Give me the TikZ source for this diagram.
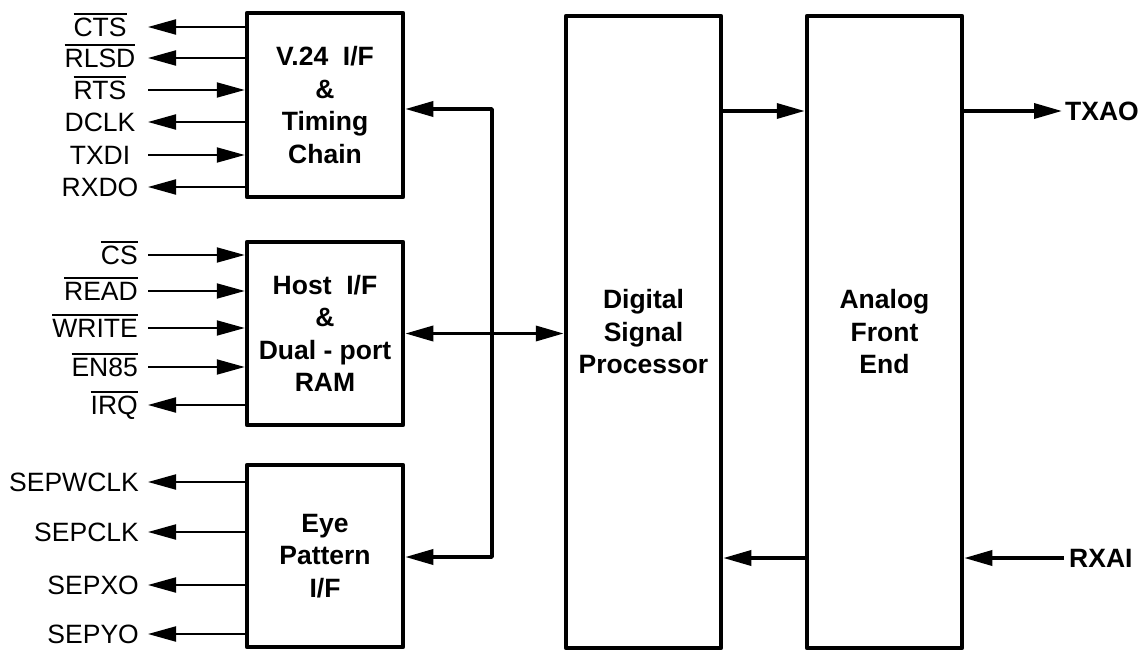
\documentclass[tikz,border=0pt]{standalone}
\usepackage{fontspec}
\setmainfont{Liberation Sans}
\usetikzlibrary{arrows.meta}
\newcommand\ovl[1]{\vbox{\hrule height 1.8pt\kern 3pt\hbox{#1}}} % active-low bar
\tikzset{
  blk/.style = {draw, line width=4.5pt, line join=round, minimum width=156pt,
    align=center, inner sep=0pt, font=\bfseries\fontsize{26.5}{32.5}\selectfont},
  lbl/.style = {inner sep=0pt, font=\fontsize{26.5}{30}\selectfont},
  pinlbl/.style = {inner sep=0pt, font=\bfseries\fontsize{26.5}{30}\selectfont}, % TXAO / RXAI
  sig/.style = {line width=2pt},
  bus/.style = {line width=3.5pt, line join=round},
  >={Triangle[length=28pt,width=15pt]}
}

\begin{document}
\begin{tikzpicture}[x=1pt,y=-1pt]
\useasboundingbox (0,0) rectangle (1143,650);
% blocks
\node[blk, minimum height=184pt] (v24)  at (325,105)   {V.24\ \ I/F\\\&\\Timing\\Chain};
\node[blk, minimum height=183pt] (host) at (325,333.5) {Host\ \ I/F\\\&\\Dual - port\\RAM};
\node[blk, minimum height=182pt] (eye)  at (325,556)   {Eye\\Pattern\\I/F};
\node[blk, minimum width=155pt, minimum height=632pt] (dsp) at (643.5,332) {Digital\\Signal\\Processor};
\node[blk, minimum width=155pt, minimum height=632pt] (afe) at (884.5,332) {Analog\\Front\\End};
% V.24 pins
\foreach \y/\txt/\dir [count=\i] in {27/\ovl{CTS}/<-, 58/\ovl{RLSD}/<-, 90/\ovl{RTS}/->,
    122/DCLK/<-, 155/TXDI/->, 187/RXDO/<-}{
  \coordinate (va\i) at (148,\y);
  \node[lbl, anchor=base, yshift=-9.5pt] (vt\i) at (100,\y) {\txt};
  \draw[sig, \dir] (va\i) -- (va\i -| v24.west);
}
% host pins
\foreach \y/\txt/\dir [count=\i] in {255/\ovl{CS}/->, 291/\ovl{READ}/->, 328/\ovl{WRITE}/->,
    367/\ovl{EN85}/->, 405/\ovl{IRQ}/<-}{
  \coordinate (ha\i) at (148,\y);
  \node[lbl, anchor=base east, yshift=-9.5pt] (ht\i) at (138,\y) {\txt};
  \draw[sig, \dir] (ha\i) -- (ha\i -| host.west);
}
% eye pattern pins
\foreach \y/\txt [count=\i] in {482/SEPWCLK, 532/SEPCLK, 585/SEPXO, 634/SEPYO}{
  \coordinate (ea\i) at (148,\y);
  \node[lbl, anchor=base east, yshift=-9.5pt] (et\i) at (139,\y) {\txt};
  \draw[sig, <-] (ea\i) -- (ea\i -| eye.west);
}
% internal bus
\coordinate (bt) at (492,109);
\coordinate (bb) at (492,557);
\draw[bus, <->] (bt -| v24.east) -- (bt) -- (bb) -- (bb -| eye.east);
\draw[bus, <->] (host.east) -- (host.east -| dsp.west);
% DSP / AFE / line
\coordinate (tx) at (1062,111);
\coordinate (rx) at (1064,558);
\draw[bus, ->] (dsp.east |- tx) -- (afe.west |- tx);
\draw[bus, ->] (afe.west |- rx) -- (dsp.east |- rx);
\draw[bus, ->] (afe.east |- tx) -- (tx);
\draw[bus, ->] (rx) -- (afe.east |- rx);
\node[pinlbl, anchor=west] (txao) at (1065,111) {TXAO};
\node[pinlbl, anchor=west] (rxai) at (1069,558) {RXAI};
\end{tikzpicture}
\end{document}
